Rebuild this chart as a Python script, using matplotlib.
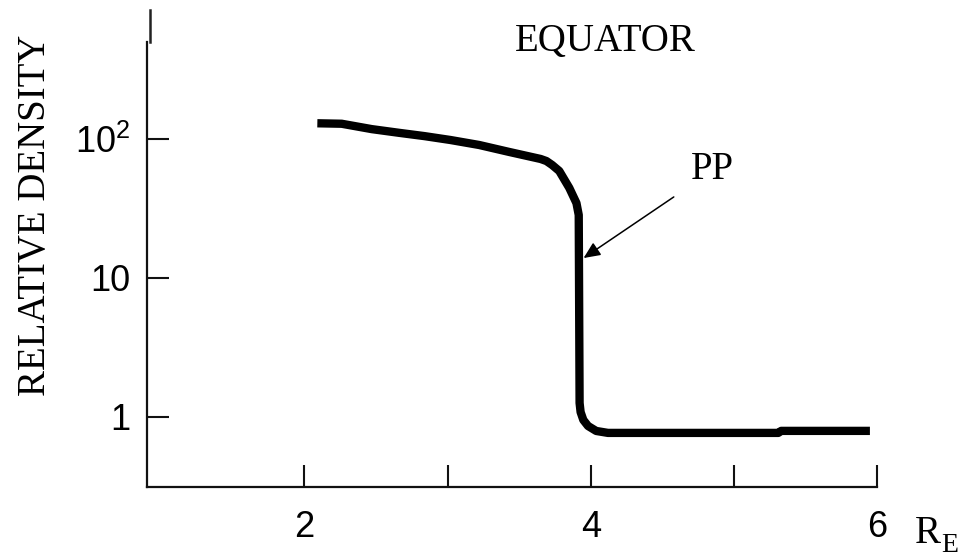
import matplotlib
matplotlib.use("Agg")
import matplotlib.pyplot as plt

# density profile (R in Earth radii, relative density)
r_e = [2.09, 2.26, 2.47, 2.66, 2.84, 3.02, 3.22, 3.43, 3.65, 3.69, 3.73, 3.78,
       3.85, 3.90, 3.916, 3.922, 3.929, 3.948, 3.981, 4.038, 4.12, 5.31, 5.33,
       5.95]
density = [130, 129, 118, 111, 105, 98.5, 90.7, 80.8, 71.9, 69.5, 65.1, 58.9,
           44.5, 34.6, 28.4, 1.255, 1.08, 0.947, 0.857, 0.789, 0.764, 0.764,
           0.79, 0.79]

x_ticks = [2, 3, 4, 5, 6]
x_tick_labels = ["2", "", "4", "", "6"]
y_ticks = [1, 10, 100]
y_tick_labels = ["1", "10", r"$\mathregular{10^2}$"]

pp_tip = (3.95, 13.9)
pp_tail = (4.58, 38.3)

plt.rcParams["mathtext.fontset"] = "custom"
plt.rcParams["mathtext.rm"] = "Liberation Sans"

fig = plt.figure(figsize=(9.67, 5.58), dpi=100)
ax = fig.add_axes([0.152, 0.1278, 0.755, 0.797])

ax.plot(r_e, density, color="black", lw=6, solid_capstyle="butt",
        solid_joinstyle="round")
ax.set_yscale("log")
ax.set_xlim(0.9, 6.0)
ax.set_ylim(0.313, 501)

ax.set_xticks(x_ticks)
ax.set_xticklabels(x_tick_labels)
ax.set_yticks(y_ticks)
ax.set_yticklabels(y_tick_labels)
ax.minorticks_off()
for lab in ax.get_xticklabels() + ax.get_yticklabels():
    lab.set_fontfamily("Liberation Sans")
    lab.set_fontsize(26)
ax.tick_params(axis="x", direction="in", length=16, width=1.5, pad=17,
               color="#111111")
ax.tick_params(axis="y", direction="in", length=16, width=1.5, pad=12,
               color="#111111")

for side in ["top", "right"]:
    ax.spines[side].set_visible(False)
for side in ["left", "bottom"]:
    ax.spines[side].set_linewidth(1.6)
    ax.spines[side].set_color("#111111")

# little offset stub above the left axis
ax.plot([0.004, 0.004], [1.0, 1.072], transform=ax.transAxes, color="#222222",
        lw=1.8, clip_on=False)

ax.annotate("", xy=pp_tip, xytext=pp_tail,
            arrowprops=dict(arrowstyle="-|>,head_length=1.0,head_width=0.45",
                            color="black", lw=1.1, shrinkA=0, shrinkB=0))

serif = "Liberation Serif"
fig.text(0.6257, 0.9265, "EQUATOR", family=serif, fontsize=28,
         ha="center", va="center")
fig.text(0.7363, 0.6971, "PP", family=serif, fontsize=28,
         ha="center", va="center")
fig.text(0.037, 0.6147, "RELATIVE DENSITY", family=serif, fontsize=28,
         rotation=90, ha="center", va="center")
fig.text(0.9462, 0.0269, "R", family=serif, fontsize=28, ha="left",
         va="baseline")
fig.text(0.973, 0.0108, "E", family=serif, fontsize=20, ha="left",
         va="baseline")

fig.savefig("out.png", dpi=100)
